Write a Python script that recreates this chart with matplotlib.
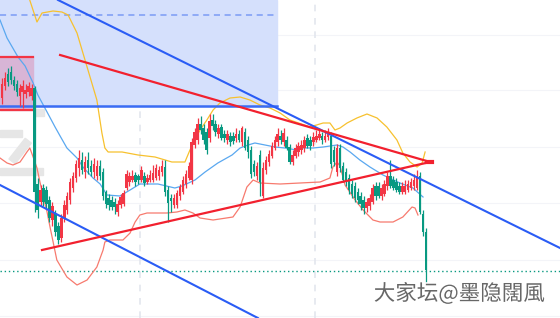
import numpy as np
import matplotlib.pyplot as plt
from matplotlib.patches import Rectangle, Polygon
import matplotlib.patheffects as pe

# candle data (arbitrary price units)
opens = [220, 232, 244, 246, 238, 234, 222, 226, 224, 226, 222, 230, 134, 116, 130, 128, 118, 98, 104, 92,
         80, 100, 108, 118, 130, 140, 150, 158, 146, 158, 152, 146, 142, 152, 146, 126, 120, 118, 116, 106,
         113, 114, 130, 136, 138, 143, 142, 138, 142, 136, 138, 138, 140, 142, 146, 151, 128, 120, 113, 113,
         122, 126, 134, 140, 138, 173, 178, 194, 190, 186, 180, 198, 194, 184, 191, 184, 178, 182, 182, 180,
         184, 176, 186, 178, 168, 154, 142, 163, 122, 148, 156, 162, 170, 176, 182, 176, 178, 171, 156, 162,
         166, 168, 170, 180, 178, 176, 178, 180, 182, 178, 181, 182, 168, 146, 170, 152, 146, 140, 134, 132,
         126, 122, 118, 110, 112, 116, 132, 132, 122, 124, 132, 142, 138, 136, 132, 126, 126, 128, 130, 132,
         130, 142, 104, 86]
closes = [234, 240, 236, 238, 232, 226, 230, 232, 228, 232, 230, 126, 108, 128, 116, 114, 100, 112, 86, 78,
          100, 113, 122, 136, 142, 154, 160, 148, 156, 150, 146, 154, 152, 142, 122, 114, 113, 111, 111, 114,
          121, 125, 144, 142, 142, 136, 138, 148, 135, 140, 143, 145, 150, 148, 152, 126, 115, 117, 120, 125,
          131, 138, 144, 152, 176, 186, 194, 188, 178, 168, 197, 192, 186, 190, 180, 180, 184, 176, 177, 184,
          178, 190, 170, 166, 144, 146, 152, 136, 150, 158, 164, 172, 178, 184, 178, 185, 170, 156, 163, 170,
          172, 173, 178, 172, 172, 181, 182, 184, 178, 182, 186, 154, 156, 170, 150, 138, 136, 128, 124, 120,
          118, 114, 110, 116, 120, 130, 122, 122, 130, 134, 142, 132, 130, 128, 126, 132, 132, 134, 136, 138,
          142, 106, 86, 48]
highs = [240, 246, 250, 252, 242, 238, 234, 238, 234, 236, 234, 232, 140, 133, 134, 132, 122, 116, 108, 96,
         104, 118, 126, 140, 146, 158, 168, 166, 162, 166, 158, 160, 158, 158, 150, 128, 124, 122, 120, 118,
         124, 128, 148, 146, 148, 146, 144, 152, 146, 144, 148, 153, 154, 152, 158, 158, 132, 124, 124, 128,
         134, 142, 148, 156, 180, 190, 200, 202, 194, 190, 204, 204, 198, 194, 194, 188, 188, 186, 186, 190,
         188, 192, 190, 182, 172, 158, 156, 168, 156, 162, 168, 176, 182, 190, 188, 190, 182, 174, 168, 174,
         176, 178, 182, 184, 182, 186, 188, 190, 186, 188, 190, 186, 172, 174, 174, 156, 150, 144, 138, 136,
         130, 126, 122, 120, 124, 134, 136, 136, 134, 138, 146, 158, 142, 140, 136, 136, 138, 138, 140, 144,
         148, 146, 108, 90]
lows = [214, 228, 232, 234, 228, 222, 212, 210, 220, 222, 218, 106, 100, 112, 112, 110, 96, 92, 82, 74,
        76, 96, 104, 114, 126, 136, 142, 144, 140, 144, 142, 140, 138, 138, 118, 110, 108, 108, 104, 102,
        110, 112, 128, 132, 136, 132, 134, 136, 132, 134, 136, 136, 138, 138, 142, 122, 96, 106, 110, 110,
        118, 124, 130, 138, 134, 170, 174, 184, 174, 164, 176, 188, 182, 180, 178, 176, 174, 172, 174, 176,
        176, 172, 168, 160, 140, 142, 138, 122, 120, 144, 152, 160, 168, 172, 174, 172, 168, 154, 153, 160,
        162, 164, 166, 170, 168, 172, 176, 178, 174, 176, 178, 150, 152, 142, 146, 136, 132, 124, 120, 116,
        114, 108, 104, 106, 108, 114, 118, 120, 118, 122, 128, 130, 128, 126, 124, 124, 124, 126, 128, 128,
        128, 104, 82, 36]

# bollinger-like bands read at sample bars (bar index, price)
upper_x = [8.8, 11.8, 13.5, 17.2, 20.2, 22.3, 25.3, 28.7, 32.0, 33.7, 34.7, 35.8, 40.5, 45.9, 51.6, 57.3,
           61.7, 63.4, 64.4, 66.8, 69.1, 71.2, 73.5, 76.9, 80.3, 83.6, 87.0, 90.4, 93.8, 97.1, 103.9, 108.3,
           110.6, 112.3, 114.0, 116.4, 119.7, 123.1, 126.5, 129.8, 133.2, 135.2, 137.6, 140.0, 141.7, 142.7]
upper_y = [323, 296, 305, 307, 306, 303, 285, 251, 218, 185, 170, 166, 166, 163, 161, 156,
           156, 168, 175, 188, 198, 208, 215, 220, 221, 218, 213, 210, 205, 198, 191, 195,
           195, 188, 190, 195, 200, 204, 200, 191, 178, 165, 156, 151, 155, 166]
mid_x = [-0.67, 1.7, 5.4, 7.8, 10.5, 12.1, 15.2, 17.9, 19.6, 21.9, 25.3, 27.3, 30.7, 33.1, 35.4, 39.8,
         43.2, 46.5, 52.6, 58.3, 60.7, 65.1, 68.5, 72.8, 77.6, 80.3, 83.0, 85.3, 88.7, 92.1, 95.4, 99.5,
         101.5, 104.9, 108.3, 113.0, 115.0, 117.4, 120.7, 124.1, 128.5, 134.2, 138.6, 142.0]
mid_y = [298, 280, 261, 252, 235, 223, 206, 191, 182, 170, 160, 151, 140, 134, 123, 122,
         128, 134, 134, 130, 132, 138, 146, 155, 163, 170, 173, 175, 173, 171, 170, 168,
         170, 170, 171, 173, 171, 166, 158, 151, 143, 135, 130, 121]
lower_x = [-0.67, 1.7, 3.7, 6.1, 8.4, 9.4, 10.5, 11.8, 12.8, 15.2, 16.2, 18.5, 21.9, 25.3, 28.7, 32.0,
           34.1, 34.7, 36.4, 40.8, 43.2, 44.9, 46.5, 48.9, 55.6, 59.0, 61.7, 64.4, 66.8, 71.2, 77.9, 80.3,
           82.6, 84.7, 87.0, 93.8, 100.5, 107.3, 110.6, 111.6, 113.0, 114.0, 115.7, 119.1, 121.8, 125.1,
           127.5, 131.9, 135.2, 138.3, 139.3, 140.3]
lower_y = [160, 155, 153, 156, 166, 170, 161, 150, 136, 106, 91, 58, 41, 33, 38, 51,
           68, 76, 78, 78, 85, 96, 103, 105, 105, 106, 108, 105, 100, 98, 101, 111,
           131, 138, 135, 134, 135, 136, 140, 151, 156, 152, 133, 118, 108, 98,
           96, 96, 101, 111, 110, 103]

# drawn trend lines (bar index, price)
blue_hi = ([18.9, 188.2], [318, 70])
blue_lo = ([-0.67, 86.3], [133, 0])
red_hi = ([19.6, 144.4], [263, 156])
red_lo = ([13.5, 144.4], [68, 156])
zone_top, zone_bottom, zone_dash = 318, 212, 303
pink_top, pink_bottom = 261, 208
support = 47

UP = '#f23645'
DOWN = '#089981'

fig = plt.figure(figsize=(5.6, 3.18), dpi=100)
ax = fig.add_axes([0, 0, 1, 1])
ax.set_xlim(-0.67, 188.2)
ax.set_ylim(0, 318)
ax.axis('off')

# faint grid
for gy in [283, 228, 171, 115, 58, 2]:
    ax.axhline(gy, color='#f3f4f8', lw=0.8, zorder=0)
for gx in [46.5, 105.6]:
    ax.axvline(gx, color='#e3e6ee', lw=1.2, ls=(0, (4, 4)), zorder=0)

# grey watermark remnants
for (x0, y0, w, h) in [(0, 0.57, 0.04, 0.022), (0.06, 0.635, 0.018, 0.022), (0, 0.45, 0.077, 0.022)]:
    ax.add_patch(Rectangle((x0, y0), w, h, transform=ax.transAxes, color='#e6e6e6', zorder=0))
ax.add_patch(Polygon([(0.016, 0.50), (0.045, 0.565), (0.056, 0.55), (0.027, 0.485)],
                     transform=ax.transAxes, color='#e6e6e6', zorder=0))

# blue zone
ax.add_patch(Rectangle((-0.67, zone_bottom), 93.4, zone_top - zone_bottom, color='#d5e0fc', zorder=1))
ax.plot([-0.67, 92.7], [zone_bottom, zone_bottom], color='#3a6cf4', lw=1.8, zorder=4)
ax.plot([-0.67, 92.7], [zone_dash, zone_dash], color='#7b9cf5', lw=1.1, ls=(0, (4, 3)), zorder=2)

# pink box
ax.add_patch(Rectangle((-0.67, pink_bottom), 11.1, pink_top - pink_bottom, color='#d8b5d6', zorder=1.5))
ax.plot([-0.67, 10.4], [pink_top, pink_top], color='#f23645', lw=1.6, zorder=4)
ax.plot([-0.67, 10.4], [pink_bottom, pink_bottom], color='#f23645', lw=1.6, zorder=4)

# support dotted line
ax.axhline(support, color=DOWN, lw=1.0, ls=(0, (1, 2)), zorder=2)

# bands
ax.plot(upper_x, upper_y, color='#f7c12e', lw=0.9, zorder=3)
ax.plot(mid_x, mid_y, color='#5aa8f0', lw=0.9, zorder=3)
ax.plot(lower_x, lower_y, color='#f77a6e', lw=0.9, zorder=3)

# candles
idx = np.arange(len(opens))
o = np.array(opens, float)
c = np.array(closes, float)
colors = [UP if cc > oo else DOWN for oo, cc in zip(o, c)]
ax.vlines(idx, lows, highs, colors=colors, lw=0.9, zorder=5)
body_h = np.maximum(np.abs(c - o), 1.5)
ax.bar(idx, body_h, bottom=np.minimum(o, c), width=0.85, color=colors, zorder=6, linewidth=0)

# trend lines
ax.plot(*blue_hi, color='#2a5cf5', lw=1.5, zorder=7)
ax.plot(*blue_lo, color='#2a5cf5', lw=1.5, zorder=7)
ax.plot(*red_hi, color='#f2202e', lw=1.6, zorder=7)
ax.plot(*red_lo, color='#f2202e', lw=1.6, zorder=7)
ax.plot([143.4, 145.0], [156, 156], color='#f2202e', lw=3, zorder=7)

fig.text(0.82, 0.075, '大家坛@墨隐闊風', family=['Noto Sans CJK SC', 'DejaVu Sans'],
         fontsize=15.5, color='#676767', ha='center', va='center',
         path_effects=[pe.withStroke(linewidth=2, foreground='white')])

fig.savefig('out.png', dpi=100)
